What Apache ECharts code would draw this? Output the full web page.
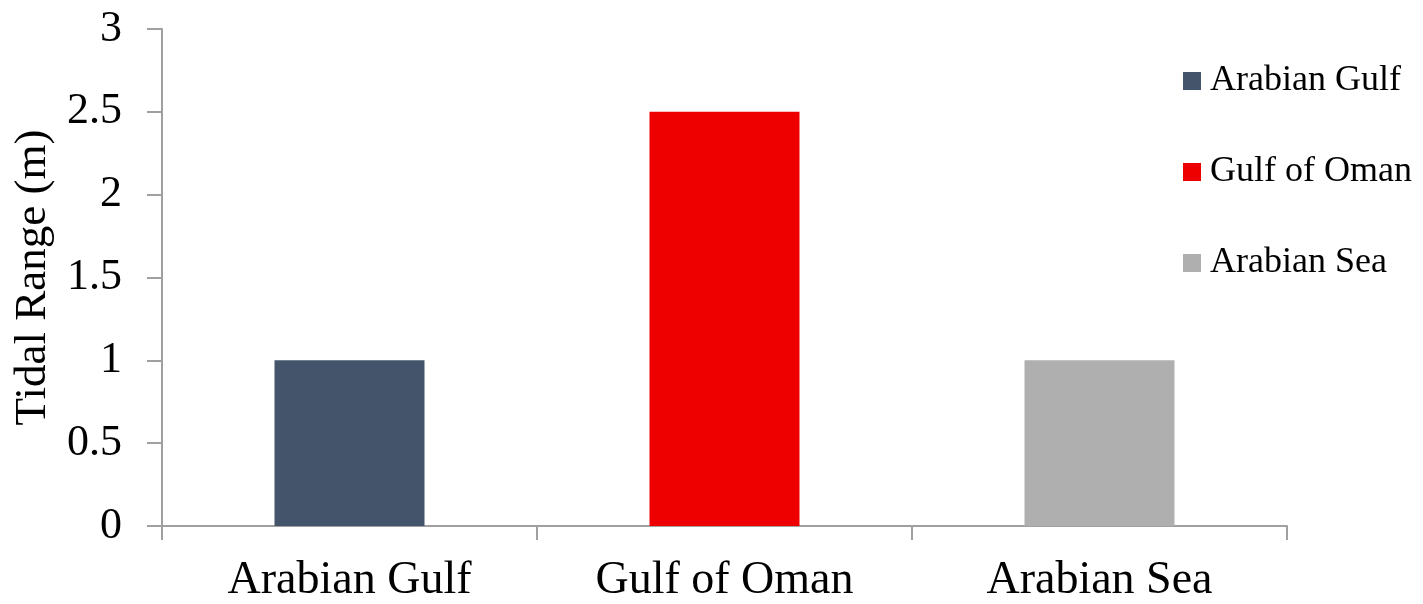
<!DOCTYPE html>
<html>
<head>
<meta charset="utf-8">
<script src="https://cdn.jsdelivr.net/npm/echarts@6/dist/echarts.min.js"></script>
<style>
  html, body { margin: 0; padding: 0; background: #fff; }
  #main { width: 1423px; height: 604px; }
</style>
</head>
<body>
<div id="main"></div>
<script>
var categories = ['Arabian Gulf', 'Gulf of Oman', 'Arabian Sea'];
var tidalRange = [1, 2.5, 1];
var barColors = ['#44546a', '#ee0000', '#afafaf'];

var chart = echarts.init(document.getElementById('main'));

// one series per region so the legend lists each one; stacked so they sit centred
var series = categories.map(function (name, i) {
  return {
    name: name,
    type: 'bar',
    stack: 'tide',
    barWidth: 150,
    itemStyle: { color: barColors[i] },
    data: categories.map(function (c, j) { return j === i ? tidalRange[i] : '-'; })
  };
});

chart.setOption({
  backgroundColor: '#ffffff',
  textStyle: { fontFamily: 'Liberation Serif', color: '#000' },
  animation: false,
  grid: { left: 162, right: 136, top: 29, bottom: 77 },
  legend: {
    orient: 'vertical',
    left: 1178,
    top: 58,
    itemWidth: 18,
    itemHeight: 18,
    itemGap: 55,
    icon: 'rect',
    textStyle: { fontFamily: 'Liberation Serif', fontSize: 36, lineHeight: 36, color: '#000', padding: [0, 0, 0, 4] },
    data: categories
  },
  xAxis: {
    type: 'category',
    data: categories,
    axisLine: { lineStyle: { color: '#a0a0a0', width: 2 } },
    axisTick: { show: true, length: 14, inside: false, lineStyle: { color: '#a0a0a0', width: 2 } },
    axisLabel: { fontFamily: 'Liberation Serif', fontSize: 46, color: '#000', margin: 32 }
  },
  yAxis: {
    type: 'value',
    min: 0,
    max: 3,
    interval: 0.5,
    name: 'Tidal Range (m)',
    nameLocation: 'middle',
    nameGap: 106,
    nameTextStyle: { fontFamily: 'Liberation Serif', fontSize: 45, color: '#000' },
    splitLine: { show: false },
    axisLine: { show: true, lineStyle: { color: '#a0a0a0', width: 2 } },
    axisTick: { show: true, length: 15, inside: false, lineStyle: { color: '#a0a0a0', width: 2 } },
    axisLabel: { fontFamily: 'Liberation Serif', fontSize: 44, color: '#000', margin: 40 }
  },
  series: series
});
</script>
</body>
</html>
